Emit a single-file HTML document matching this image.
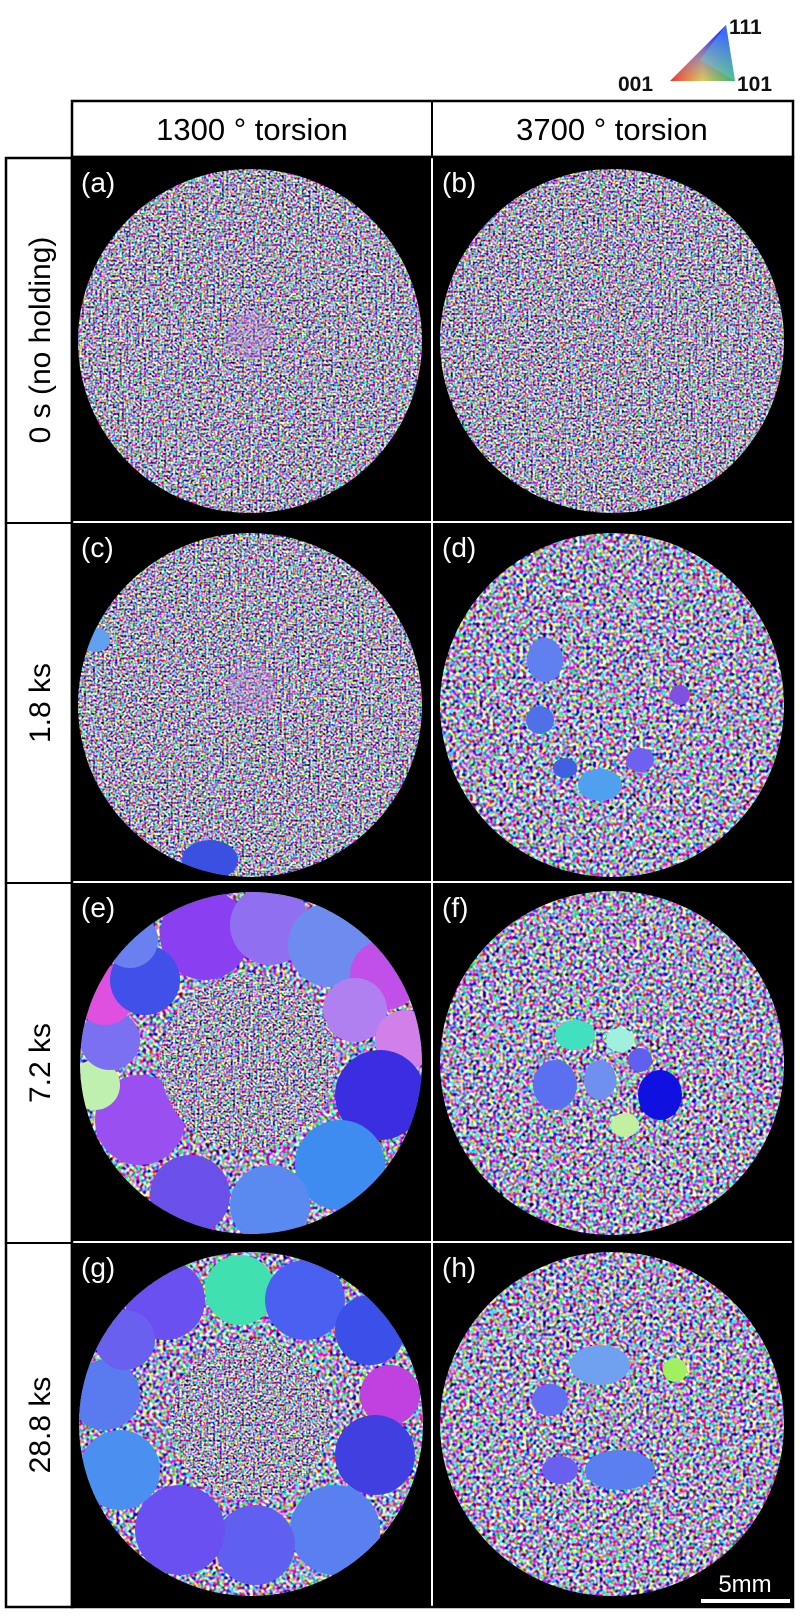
<!DOCTYPE html>
<html><head><meta charset="utf-8"><style>
html,body{margin:0;padding:0;background:#fff}
svg{display:block}
text{font-family:"Liberation Sans",Arial,sans-serif}
</style></head><body>
<svg width="800" height="1617" viewBox="0 0 800 1617" xmlns="http://www.w3.org/2000/svg">
<defs>
<filter id="nz" x="0" y="0" width="1" height="1" color-interpolation-filters="sRGB">
<feTurbulence type="fractalNoise" baseFrequency="0.45" numOctaves="1" seed="3"/>
<feColorMatrix type="matrix" values="3.8 0 0 0 -1.24  0 3.8 0 0 -1.27  0 0 3.8 0 -1.12  0 0 0 0 1"/>
</filter>
<filter id="nz2" x="0" y="0" width="1" height="1" color-interpolation-filters="sRGB">
<feTurbulence type="fractalNoise" baseFrequency="0.3" numOctaves="1" seed="7"/>
<feColorMatrix type="matrix" values="3.8 0 0 0 -1.25  0 3.8 0 0 -1.28  0 0 3.8 0 -1.08  0 0 0 0 1"/>
</filter>
<linearGradient id="gr" x1="0" y1="0" x2="1" y2="0"><stop offset="0" stop-color="#f03030"/><stop offset="0.5" stop-color="#f0e040"/><stop offset="1" stop-color="#30e030"/></linearGradient>
<linearGradient id="gb" x1="0" y1="1" x2="0.3" y2="0"><stop offset="0" stop-color="#8040ff" stop-opacity="0"/><stop offset="1" stop-color="#3030ff" stop-opacity="1"/></linearGradient>
<clipPath id="ca"><circle cx="250" cy="341" r="172"/></clipPath>
<clipPath id="cb"><circle cx="612" cy="341" r="172"/></clipPath>
<clipPath id="cc"><circle cx="250" cy="705" r="172"/></clipPath>
<clipPath id="cd"><circle cx="612" cy="705" r="172"/></clipPath>
<clipPath id="ce"><circle cx="251" cy="1063" r="171"/></clipPath>
<clipPath id="cf"><circle cx="612" cy="1063" r="172"/></clipPath>
<clipPath id="cg"><circle cx="251" cy="1424" r="172"/></clipPath>
<clipPath id="ch"><circle cx="612" cy="1424" r="172"/></clipPath>
<clipPath id="cei"><circle cx="248" cy="1062" r="88"/></clipPath>
<clipPath id="cgi"><circle cx="250" cy="1420" r="80"/></clipPath>
</defs>

<polygon points="670,81 726,25 735,81" fill="url(#gr)"/>
<polygon points="670,81 726,25 735,81" fill="url(#gb)"/>
<polygon points="700,60 726,25 735,81" fill="#50e0f0" opacity="0.35"/>
<text x="729" y="34" font-size="21" font-weight="bold" fill="#111">111</text>
<text x="618" y="91" font-size="21" font-weight="bold" fill="#111">001</text>
<text x="737" y="91" font-size="21" font-weight="bold" fill="#111">101</text>

<rect x="72" y="101" width="721" height="56" fill="#fff" stroke="#000" stroke-width="2.5"/>
<line x1="432" y1="101" x2="432" y2="157" stroke="#000" stroke-width="2"/>
<text x="252" y="140" font-size="31" text-anchor="middle">1300 ° torsion</text>
<text x="612" y="140" font-size="31" text-anchor="middle">3700 ° torsion</text>

<rect x="6" y="158" width="66" height="1449" fill="#fff" stroke="#000" stroke-width="2.5"/>
<line x1="6" y1="523" x2="72" y2="523" stroke="#000" stroke-width="2"/>
<line x1="6" y1="883" x2="72" y2="883" stroke="#000" stroke-width="2"/>
<line x1="6" y1="1243" x2="72" y2="1243" stroke="#000" stroke-width="2"/>
<text transform="translate(50,340) rotate(-90)" font-size="30" text-anchor="middle">0 s (no holding)</text>
<text transform="translate(50,703) rotate(-90)" font-size="30" text-anchor="middle">1.8 ks</text>
<text transform="translate(50,1063) rotate(-90)" font-size="30" text-anchor="middle">7.2 ks</text>
<text transform="translate(50,1425) rotate(-90)" font-size="30" text-anchor="middle">28.8 ks</text>

<rect x="72" y="157" width="721" height="1450" fill="#000"/>
<line x1="72" y1="522" x2="793" y2="522" stroke="#fff" stroke-width="2"/>
<line x1="72" y1="882" x2="793" y2="882" stroke="#fff" stroke-width="2"/>
<line x1="72" y1="1242" x2="793" y2="1242" stroke="#fff" stroke-width="2"/>
<line x1="432" y1="157" x2="432" y2="1607" stroke="#fff" stroke-width="2"/>
<rect x="72" y="157" width="721" height="1450" fill="none" stroke="#000" stroke-width="2.5"/>

<g clip-path="url(#ca)"><rect x="78" y="169" width="344" height="344" filter="url(#nz)"/>
<circle cx="250" cy="335" r="25" fill="#c080e0" opacity="0.3"/></g>
<g clip-path="url(#cb)"><rect x="440" y="169" width="344" height="344" filter="url(#nz)"/></g>
<g clip-path="url(#cc)"><rect x="78" y="533" width="344" height="344" filter="url(#nz)"/>
<circle cx="252" cy="690" r="25" fill="#c080e0" opacity="0.3"/>
<ellipse cx="210" cy="860" rx="28" ry="20" fill="#3a50e0"/>
<ellipse cx="95" cy="640" rx="15" ry="12" fill="#60a0f0"/></g>
<g clip-path="url(#cd)"><rect x="440" y="533" width="344" height="344" filter="url(#nz2)"/>
<ellipse cx="545" cy="660" rx="18" ry="22" fill="#6080f0"/>
<ellipse cx="540" cy="720" rx="14" ry="14" fill="#5070e8"/>
<ellipse cx="600" cy="785" rx="22" ry="16" fill="#50a0f0"/>
<ellipse cx="640" cy="760" rx="14" ry="12" fill="#7060f0"/>
<ellipse cx="680" cy="695" rx="10" ry="10" fill="#8050e0"/>
<ellipse cx="565" cy="768" rx="12" ry="10" fill="#4060e0"/></g>
<g clip-path="url(#ce)"><rect x="79" y="892" width="344" height="344" filter="url(#nz2)"/>
<circle cx="205" cy="935" r="45" fill="#8a40f0"/>
<circle cx="270" cy="925" r="40" fill="#9070f0"/>
<circle cx="330" cy="945" r="42" fill="#6e8cf0"/>
<circle cx="385" cy="975" r="35" fill="#c050e8"/>
<circle cx="355" cy="1010" r="32" fill="#b080f0"/>
<circle cx="405" cy="1040" r="30" fill="#d080e8"/>
<circle cx="380" cy="1095" r="45" fill="#3a2ee0"/>
<circle cx="340" cy="1165" r="45" fill="#3e8cf0"/>
<circle cx="270" cy="1205" r="40" fill="#5a8af0"/>
<circle cx="190" cy="1195" r="40" fill="#6a50e8"/>
<circle cx="140" cy="1120" r="45" fill="#9a50f0"/>
<circle cx="95" cy="1085" r="25" fill="#c0f0b0"/>
<circle cx="110" cy="1040" r="30" fill="#7a70f0"/>
<circle cx="105" cy="995" r="30" fill="#e050e0"/>
<circle cx="145" cy="980" r="35" fill="#4050e8"/>
<circle cx="130" cy="940" r="28" fill="#6a80f0"/>
</g>
<g clip-path="url(#cei)"><rect x="150" y="960" width="200" height="200" filter="url(#nz)"/></g>
<g clip-path="url(#cf)"><rect x="440" y="891" width="344" height="344" filter="url(#nz2)"/>
<ellipse cx="575" cy="1035" rx="20" ry="15" fill="#40e0c0"/>
<ellipse cx="555" cy="1085" rx="22" ry="25" fill="#5a70f0"/>
<ellipse cx="600" cy="1080" rx="16" ry="20" fill="#7090f0"/>
<ellipse cx="660" cy="1095" rx="22" ry="25" fill="#1010e0"/>
<ellipse cx="625" cy="1125" rx="14" ry="12" fill="#c0f0a0"/>
<ellipse cx="620" cy="1040" rx="14" ry="12" fill="#a0f0e0"/>
<ellipse cx="640" cy="1060" rx="12" ry="12" fill="#6060f0"/></g>
<g clip-path="url(#cg)"><rect x="79" y="1252" width="344" height="344" filter="url(#nz2)"/>
<circle cx="165" cy="1300" r="40" fill="#6a50f0"/>
<circle cx="240" cy="1290" r="35" fill="#40e0b0"/>
<circle cx="305" cy="1300" r="40" fill="#4a60f0"/>
<circle cx="370" cy="1330" r="35" fill="#3a50e8"/>
<circle cx="390" cy="1395" r="30" fill="#c040e0"/>
<circle cx="375" cy="1455" r="40" fill="#4040e0"/>
<circle cx="335" cy="1530" r="45" fill="#5a80f0"/>
<circle cx="255" cy="1545" r="40" fill="#6060f0"/>
<circle cx="180" cy="1530" r="45" fill="#6a50f0"/>
<circle cx="120" cy="1470" r="40" fill="#4a90f0"/>
<circle cx="105" cy="1395" r="35" fill="#5a7af0"/>
<circle cx="125" cy="1340" r="30" fill="#6a60f0"/></g>
<g clip-path="url(#cgi)"><rect x="160" y="1330" width="190" height="190" filter="url(#nz)"/></g>
<g clip-path="url(#ch)"><rect x="440" y="1252" width="344" height="344" filter="url(#nz2)"/>
<ellipse cx="600" cy="1365" rx="30" ry="20" fill="#70a0f0"/>
<ellipse cx="550" cy="1400" rx="18" ry="16" fill="#6070f0"/>
<ellipse cx="620" cy="1470" rx="35" ry="20" fill="#5a80f0"/>
<ellipse cx="560" cy="1470" rx="18" ry="14" fill="#6a60f0"/>
<ellipse cx="675" cy="1370" rx="12" ry="12" fill="#a0f060"/></g>

<g fill="#fff" font-size="28">
<text x="81" y="192">(a)</text><text x="442" y="192">(b)</text>
<text x="81" y="557">(c)</text><text x="442" y="557">(d)</text>
<text x="81" y="917">(e)</text><text x="442" y="917">(f)</text>
<text x="81" y="1277">(g)</text><text x="442" y="1277">(h)</text>
</g>
<text x="745" y="1592" fill="#fff" font-size="24" text-anchor="middle">5mm</text>
<rect x="701" y="1599" width="89" height="4" fill="#fff"/>
</svg>
</body></html>
